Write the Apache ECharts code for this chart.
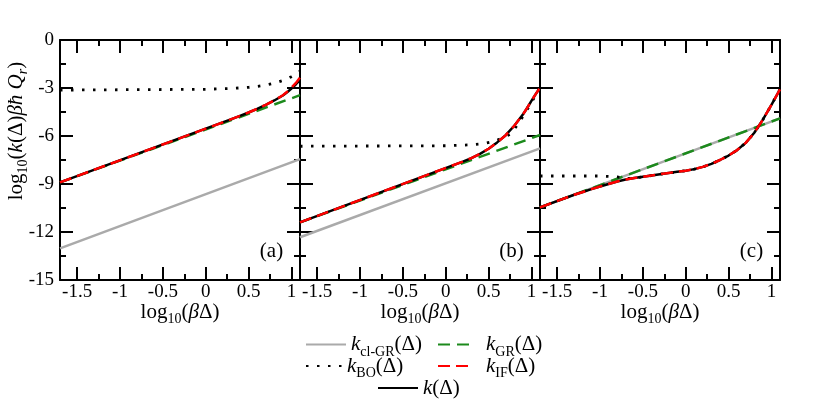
<!DOCTYPE html>
<html>
<head>
<meta charset="utf-8">
<script src="https://cdn.jsdelivr.net/npm/echarts@6/dist/echarts.min.js"></script>
<style>
html, body { margin: 0; padding: 0; background: #fff; }
#container { width: 820px; height: 400px; }
</style>
</head>
<body>
<div id="container"></div>
<script>
var dom = document.getElementById("container");
var myChart = echarts.init(dom);
var option;

var FONT = "Liberation Serif";

// tick values of log10(beta*Delta)
var xTicks = [-1.5, -1, -0.5, 0, 0.5, 1];
var xMinorTicks = [-1.25, -0.75, -0.25, 0.25, 0.75];
var panelLabels = ["(a)", "(b)", "(c)"];

// panel (a)
var clGR_a = [[-1.7, -13.02], [1.1, -7.45]];
var GR_a = [[-1.7, -8.9], [1.1, -3.45]];
var BO_a = [[-1.7, -3.13], [0, -3.08], [0.3, -3.03], [0.5, -2.96], [0.6, -2.9], [0.7, -2.82], [0.8, -2.7], [0.9, -2.53], [0.95, -2.42], [1.0, -2.29], [1.05, -2.13], [1.1, -1.95]];
var IF_a = [[-1.7, -8.9], [0.3, -4.95], [0.4, -4.74], [0.5, -4.53], [0.6, -4.3], [0.7, -4.05], [0.8, -3.77], [0.9, -3.45], [0.95, -3.24], [1.0, -2.98], [1.05, -2.7], [1.1, -2.35]];
var k_a = [[-1.7, -8.9], [0.3, -4.95], [0.4, -4.74], [0.5, -4.53], [0.6, -4.3], [0.7, -4.05], [0.8, -3.78], [0.9, -3.47], [0.95, -3.27], [1.0, -3.03], [1.05, -2.78], [1.1, -2.5]];

// panel (b)
var clGR_b = [[-1.7, -12.33], [1.1, -6.77]];
var GR_b = [[-1.7, -11.4], [1.1, -5.94]];
var BO_b = [[-1.7, -6.64], [0, -6.61], [0.3, -6.55], [0.45, -6.47], [0.55, -6.36], [0.65, -6.15], [0.75, -5.9], [0.8, -5.58], [0.85, -5.2], [0.9, -4.78], [0.95, -4.35], [1.0, -3.9], [1.05, -3.45], [1.1, -3.0]];
var IF_b = [[-1.7, -11.4], [0.2, -7.6], [0.3, -7.38], [0.4, -7.12], [0.5, -6.8], [0.6, -6.4], [0.7, -5.95], [0.8, -5.36], [0.9, -4.66], [0.95, -4.25], [1.0, -3.8], [1.05, -3.38], [1.1, -2.98]];
var k_b = [[-1.7, -11.4], [0.2, -7.6], [0.3, -7.38], [0.4, -7.12], [0.5, -6.8], [0.6, -6.4], [0.7, -5.95], [0.8, -5.36], [0.9, -4.66], [0.95, -4.25], [1.0, -3.8], [1.05, -3.38], [1.1, -2.98]];

// panel (c)
var clGR_c = [[-1.7, -10.46], [1.1, -4.9]];
var GR_c = [[-1.7, -10.46], [1.1, -4.9]];
var BO_c = [[-1.7, -8.5], [-1.0, -8.5], [-0.8, -8.55], [-0.7, -8.66], [-0.6, -8.63], [-0.5, -8.55], [-0.4, -8.47], [-0.3, -8.39], [-0.2, -8.31], [-0.1, -8.24], [0, -8.17], [0.1, -8.07], [0.2, -7.93], [0.3, -7.74], [0.4, -7.5], [0.5, -7.22], [0.6, -6.88], [0.7, -6.43], [0.8, -5.8], [0.9, -4.98], [1.0, -4.05], [1.1, -3.08]];
var IF_c = [[-1.7, -10.46], [-1.3, -9.67], [-1.2, -9.5], [-1.1, -9.32], [-1.0, -9.16], [-0.9, -9.0], [-0.8, -8.84], [-0.7, -8.72], [-0.6, -8.63], [-0.5, -8.55], [-0.4, -8.47], [-0.3, -8.39], [-0.2, -8.31], [-0.1, -8.24], [0, -8.17], [0.1, -8.07], [0.2, -7.93], [0.3, -7.74], [0.4, -7.5], [0.5, -7.22], [0.6, -6.88], [0.7, -6.43], [0.8, -5.8], [0.9, -4.98], [1.0, -4.05], [1.1, -3.08]];
var k_c = [[-1.7, -10.46], [-1.3, -9.67], [-1.2, -9.5], [-1.1, -9.32], [-1.0, -9.16], [-0.9, -9.0], [-0.8, -8.84], [-0.7, -8.72], [-0.6, -8.63], [-0.5, -8.55], [-0.4, -8.47], [-0.3, -8.39], [-0.2, -8.31], [-0.1, -8.24], [0, -8.17], [0.1, -8.07], [0.2, -7.93], [0.3, -7.74], [0.4, -7.5], [0.5, -7.22], [0.6, -6.88], [0.7, -6.43], [0.8, -5.8], [0.9, -4.98], [1.0, -4.05], [1.1, -3.08]];

var panels = [
  { "cl-GR": clGR_a, "GR": GR_a, "BO": BO_a, "k": k_a, "IF": IF_a },
  { "cl-GR": clGR_b, "GR": GR_b, "BO": BO_b, "k": k_b, "IF": IF_b },
  { "cl-GR": clGR_c, "GR": GR_c, "BO": BO_c, "k": k_c, "IF": IF_c }
];

// drawing order: gray first, red dashes last
var seriesOrder = ["cl-GR", "GR", "BO", "k", "IF"];
var lineStyles = {
  "cl-GR": { color: "#aaaaaa", type: "solid", width: 2.5 },
  "GR": { color: "#1c8a1c", type: [12, 7], width: 2.5 },
  "BO": { color: "#000000", type: [2.5, 8.5], width: 2.8 },
  "k": { color: "#000000", type: "solid", width: 2.5 },
  "IF": { color: "#ff0000", type: [12, 6], width: 2.5 }
};

var rich = {
  n: { fontFamily: FONT, fontSize: 21, color: "#000", lineHeight: 24 },
  i: { fontFamily: FONT, fontSize: 21, fontStyle: "italic", color: "#000", lineHeight: 24 },
  ip: { fontFamily: FONT, fontSize: 21, fontStyle: "italic", color: "#000", lineHeight: 24, padding: [0, 0, 0, 7] },
  s: { fontFamily: FONT, fontSize: 14, color: "#000", lineHeight: 10, padding: [15, 0, 0, 0] },
  si: { fontFamily: FONT, fontSize: 14, fontStyle: "italic", color: "#000", lineHeight: 10, padding: [15, 0, 0, 0] }
};

var legendText = {
  "cl-GR": "{i|k}{s|cl-GR}{n|(Δ)}",
  "GR": "{ip|k}{s|GR}{n|(Δ)}",
  "BO": "{i|k}{s|BO}{n|(Δ)}",
  "IF": "{ip|k}{s|IF}{n|(Δ)}",
  "k": "{i|k}{n|(Δ)}"
};

function black() { return { color: "#000", width: 2 }; }

var grids = [], xAxes = [], yAxes = [], series = [], graphics = [];
var panelLeft = [60, 300, 540];

for (var p = 0; p < 3; p++) {
  grids.push({ left: panelLeft[p], top: 40, width: 240, height: 240 });
}
// overlay grids only carrying the minor x ticks
for (var p = 0; p < 3; p++) {
  grids.push({ left: panelLeft[p], top: 40, width: 240, height: 240 });
}

for (var p = 0; p < 3; p++) {
  // bottom x axis, labels + major ticks
  xAxes.push({
    type: "value", gridIndex: p, position: "bottom", min: -1.7, max: 1.1,
    axisLine: { show: true, onZero: false, lineStyle: black() },
    axisTick: { show: true, inside: true, length: 13, lineStyle: black(), customValues: xTicks.slice() },
    axisLabel: {
      show: true, customValues: xTicks.slice(), margin: 3, color: "#000", fontFamily: FONT, fontSize: 19,
      formatter: function (v) { return String(v); }
    },
    splitLine: { show: false }
  });
  // top x axis, major ticks
  xAxes.push({
    type: "value", gridIndex: p, position: "top", min: -1.7, max: 1.1,
    axisLine: { show: true, onZero: false, lineStyle: black() },
    axisTick: { show: true, inside: true, length: 13, lineStyle: black(), customValues: xTicks.slice() },
    axisLabel: { show: false },
    splitLine: { show: false }
  });
  yAxes.push({
    type: "value", gridIndex: p, position: "left", min: -15, max: 0, interval: 3,
    axisLine: { show: true, onZero: false, lineStyle: black() },
    axisTick: { show: true, inside: true, length: 13, lineStyle: black() },
    minorTick: { show: true, splitNumber: 2, length: 6, lineStyle: black() },
    axisLabel: { show: p === 0, margin: 6, color: "#000", fontFamily: FONT, fontSize: 19 },
    splitLine: { show: false }
  });
  yAxes.push({
    type: "value", gridIndex: p, position: "right", min: -15, max: 0, interval: 3,
    axisLine: { show: true, onZero: false, lineStyle: black() },
    axisTick: { show: true, inside: true, length: 13, lineStyle: black() },
    minorTick: { show: true, splitNumber: 2, length: 6, lineStyle: black() },
    axisLabel: { show: false },
    splitLine: { show: false }
  });
}
for (var p = 0; p < 3; p++) {
  var g = 3 + p;
  ["bottom", "top"].forEach(function (pos) {
    xAxes.push({
      type: "value", gridIndex: g, position: pos, min: -1.7, max: 1.1,
      axisLine: { show: false, onZero: false },
      axisTick: { show: true, inside: true, length: 6, lineStyle: black(), customValues: xMinorTicks.slice() },
      axisLabel: { show: false },
      splitLine: { show: false }
    });
  });
  yAxes.push({
    type: "value", gridIndex: g, min: -15, max: 0, show: false,
    axisLine: { onZero: false }
  });
}

for (var p = 0; p < 3; p++) {
  seriesOrder.forEach(function (name) {
    var ls = lineStyles[name];
    series.push({
      name: name,
      type: "line",
      xAxisIndex: p * 2,
      yAxisIndex: p * 2,
      data: panels[p][name],
      showSymbol: false,
      symbol: "none",
      silent: true,
      color: ls.color,
      lineStyle: { color: ls.color, type: ls.type, width: ls.width, cap: "butt", join: "round" }
    });
  });
  graphics.push({
    type: "text",
    x: panelLeft[p] + 240 - 28.5,
    y: 251,
    style: {
      text: panelLabels[p], fill: "#000", font: "21px " + FONT,
      align: "center", verticalAlign: "middle"
    }
  });
  // x axis title under each panel
  graphics.push({
    type: "text",
    x: panelLeft[p] + 120,
    y: 312,
    style: {
      text: "{n|log}{s|10}{n|(}{i|β}{n|Δ)}",
      rich: rich,
      align: "center",
      verticalAlign: "middle"
    }
  });
}

// y axis title, rotated
graphics.push({
  type: "text",
  x: 16,
  y: 131,
  rotation: Math.PI / 2,
  style: {
    text: "{n|log}{s|10}{n|(}{i|k}{n|(Δ)}{i|βħ Q}{si|r}{n|)}",
    rich: rich,
    align: "center",
    verticalAlign: "middle"
  }
});

// itemHeight 0 keeps the legend marker to the bare line sample
function makeLegend(name, left, top, w) {
  return {
    data: [name],
    left: left, top: top,
    padding: 0,
    itemWidth: w, itemHeight: 0,
    selectedMode: false,
    formatter: function (n) { return legendText[n]; },
    textStyle: { rich: rich }
  };
}

option = {
  animation: false,
  grid: grids,
  xAxis: xAxes,
  yAxis: yAxes,
  legend: [
    makeLegend("cl-GR", 305, 330, 40),
    makeLegend("GR", 437, 330, 36),
    makeLegend("BO", 305, 351.5, 36),
    makeLegend("IF", 437, 351.5, 36),
    makeLegend("k", 377, 377.5, 40)
  ],
  graphic: graphics,
  series: series
};

myChart.setOption(option);
</script>
</body>
</html>
